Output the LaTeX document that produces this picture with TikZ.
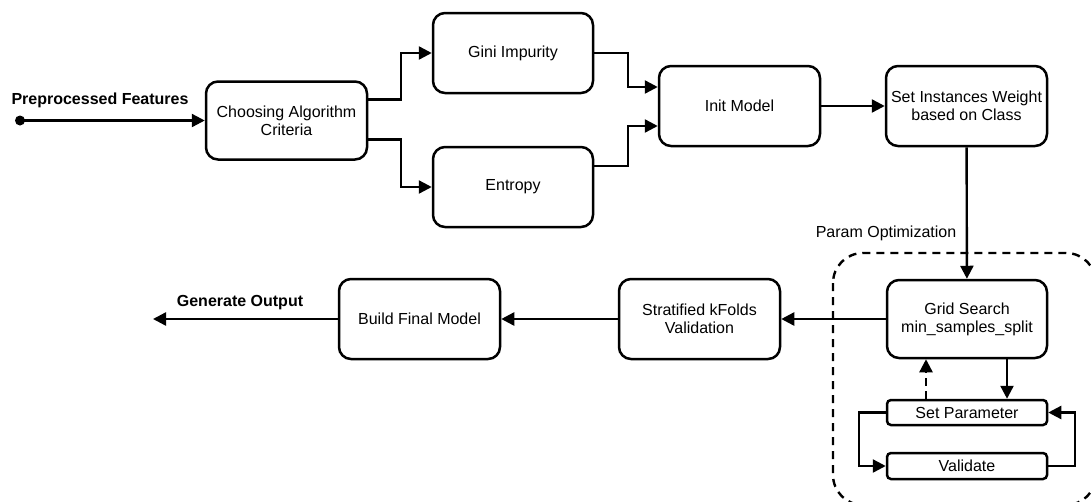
\documentclass[tikz,border=0pt]{standalone}
\usepackage{fontspec}
\setmainfont{Liberation Sans}
\usetikzlibrary{arrows.meta}

\tikzset{
  stage/.style={draw, line width=2.5pt, rounded corners=12pt, align=center,
    minimum width=161pt, minimum height=80pt, inner sep=2pt},
  substage/.style={draw, line width=2.5pt, rounded corners=4pt, align=center,
    minimum width=160pt, minimum height=25pt, inner sep=1pt},
  flow/.style={line width=2.4pt, -{Triangle[length=13pt,width=13pt]}},
  backflow/.style={flow, dash pattern=on 8pt off 5pt},
  region/.style={line width=2.4pt, dash pattern=on 8pt off 6pt, rounded corners=30pt},
  caption/.style={font=\fontsize{16}{18}\selectfont\bfseries, inner sep=0pt},
}

\begin{document}
\begin{tikzpicture}[x=1pt, y=-1pt, font=\fontsize{16}{18}\selectfont]
\useasboundingbox (0,0) rectangle (1091,501);
\clip (0,0) rectangle (1091,501);

% parameter optimisation region
\draw[region] (833,253) rectangle (1096,505);
\node[inner sep=0pt] (paramlbl) at (886,233) {Param Optimization};

% stages
\node[stage, minimum height=78pt] (choose) at (286.5,120.5) {Choosing Algorithm\\Criteria};
\node[stage, minimum width=160pt] (gini) at (513,53) {Gini Impurity};
\node[stage, minimum width=160pt] (entropy) at (513,187) {Entropy};
\node[stage] (init) at (739.5,106) {Init Model};
\node[stage] (weight) at (966.5,106) {Set Instances Weight\\based on Class};
\node[stage, minimum width=160pt, minimum height=78pt] (grid) at (967,319) {Grid Search\\min\_samples\_split};
\node[stage] (strat) at (699.5,319) {Stratified kFolds\\Validation};
\node[stage] (build) at (419.5,319) {Build Final Model};
\node[substage] (setp) at (967,412.5) {Set Parameter};
\node[substage, minimum height=26pt] (valid) at (967,466) {Validate};

% input and output ends
\coordinate (src) at (20,120.5);
\coordinate (out) at (153,319);
\fill (src) circle (5pt);
\node[caption] (inlbl) at (100,100) {Preprocessed Features};
\node[caption] (outlbl) at (240,303) {Generate Output};

% main flow
\draw[flow] (src) -- (choose.west);
\draw[flow] ([yshift=21pt]choose.east) -- ++(33,0) |- (gini.west);
\draw[flow] ([yshift=-19pt]choose.east) -- ++(33,0) |- (entropy.west);
\draw[flow] (gini.east) -- ++(34,0) |- ([yshift=19pt]init.west);
\draw[flow] ([yshift=21pt]entropy.east) -- ++(34,0) |- ([yshift=-20pt]init.west);
\draw[flow] (init) -- (weight);
\draw[flow] (weight) -- (grid);
\draw[flow] (grid) -- (strat);
\draw[flow] (strat) -- (build);
\draw[flow] (build) -- (out);

% search loop
\draw[flow] ([xshift=40pt]grid.south) -- ([xshift=40pt]setp.north);
\draw[backflow] ([xshift=-41pt]setp.north) -- ([xshift=-41pt]grid.south);
\draw[flow] (setp.west) -- ++(-27,0) |- (valid.west);
\draw[flow] (valid.east) -- ++(27,0) |- (setp.east);
\end{tikzpicture}
\end{document}
